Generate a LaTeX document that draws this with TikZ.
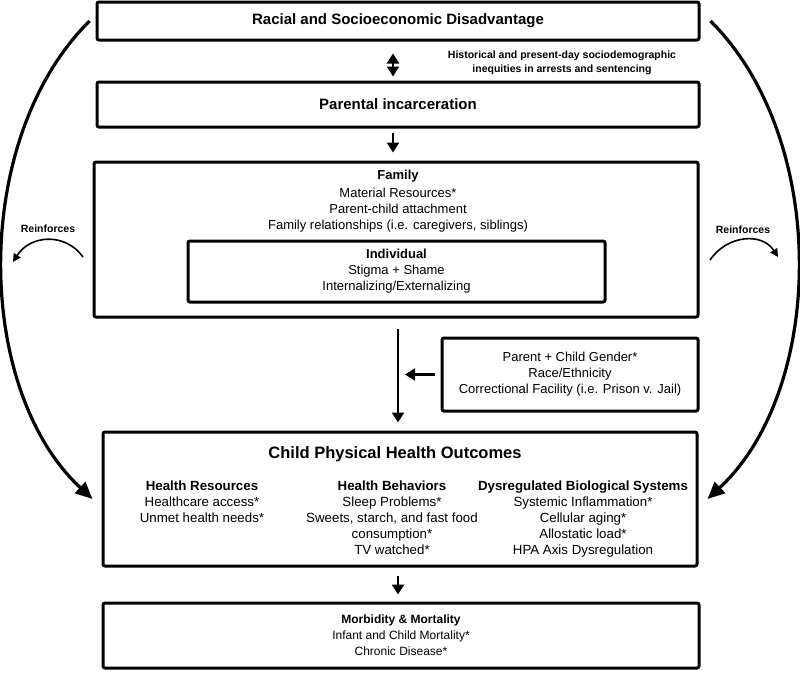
\documentclass[tikz,border=0pt]{standalone}
\usepackage{fontspec}
\setmainfont{Liberation Sans}
\usetikzlibrary{arrows.meta}

\newcommand{\titlefont}{\fontsize{15}{18}\selectfont\bfseries}
\newcommand{\bodyfont}{\fontsize{13}{16}\selectfont}
\newcommand{\notefont}{\fontsize{10.5}{13.5}\selectfont\bfseries}
\newcommand{\headfont}{\fontsize{16.5}{20}\selectfont\bfseries}
\newcommand{\colfont}{\fontsize{13.3}{16}\selectfont}
\newcommand{\smallfont}{\fontsize{12}{16}\selectfont}

\tikzstyle{box}=[draw, line width=3pt, rounded corners=2pt, inner sep=0, align=center]
\tikzstyle{note}=[inner sep=0, align=center, font=\notefont]
\tikzstyle{column}=[anchor=north, inner sep=0, align=center, font=\colfont]
\tikzstyle{arr}=[line width=2.2pt, -{Triangle[length=10pt,width=12pt]}]
\tikzstyle{bigarr}=[line width=3.2pt, -{Triangle[length=17pt,width=15pt]}]
\tikzstyle{reinarr}=[line width=1.6pt, -{Triangle[length=8pt,width=8pt]}]

\begin{document}
\begin{tikzpicture}[x=1pt, y=-1pt]
	\useasboundingbox (0,0) rectangle (800,675);

	% top of the chain
	\node[box, minimum width=602pt, minimum height=38pt, font=\titlefont] (racial) at (398,21) {Racial and Socioeconomic Disadvantage};
	\node[box, minimum width=602pt, minimum height=45pt, font=\titlefont] (parental) at (398,104.5) {Parental incarceration};
	\node[note] (inequity) at (562,63) {Historical and present-day sociodemographic\\inequities in arrests and sentencing};

	% family and individual
	\node[box, minimum width=604pt, minimum height=155pt] (family) at (396,239.5) {};
	\node[anchor=north, inner sep=0, align=center, font=\bodyfont] (famtext) at (398,169.5) {\textbf{Family}\\[2pt]Material Resources*\\Parent-child attachment\\Family relationships (i.e. caregivers, siblings)};
	\node[box, minimum width=417pt, minimum height=61pt, font=\bodyfont] (individual) at (396.5,271.5) {\textbf{Individual}\\Stigma + Shame\\Internalizing/Externalizing};

	\node[box, minimum width=256pt, minimum height=73pt, font=\bodyfont] (moderators) at (570,374.5) {Parent + Child Gender*\\Race/Ethnicity\\Correctional Facility (i.e. Prison v. Jail)};
	\coordinate (modtip) at (405,374.5);

	% outcomes
	\node[box, minimum width=594pt, minimum height=134pt] (outcomes) at (400,499) {};
	\node[anchor=north, inner sep=0, font=\headfont] (outtitle) at (395,446) {Child Physical Health Outcomes};
	\node[column] (resources) at (202,481) {\textbf{Health Resources}\\Healthcare access*\\Unmet health needs*};
	\node[column] (behaviors) at (392,481) {\textbf{Health Behaviors}\\Sleep Problems*\\Sweets, starch, and fast food\\consumption*\\TV watched*};
	\node[column] (biology) at (583,481) {\textbf{Dysregulated Biological Systems}\\Systemic Inflammation*\\Cellular aging*\\Allostatic load*\\HPA Axis Dysregulation};

	\node[box, minimum width=596pt, minimum height=65pt, font=\smallfont] (morbidity) at (401,635.5) {\textbf{Morbidity \& Mortality}\\Infant and Child Mortality*\\Chronic Disease*};

	% reinforcing loops
	\node[note] (reinfL) at (48,229) {Reinforces};
	\node[note] (reinfR) at (743,230) {Reinforces};
	\coordinate (rlA) at (83,257);
	\coordinate (rlB) at (13,262);
	\coordinate (rrA) at (710,260);
	\coordinate (rrB) at (778,257);
	\draw[reinarr] (rlA) .. controls (65,232) and (30,235) .. (rlB);
	\draw[reinarr] (rrA) .. controls (727,235) and (762,232) .. (rrB);

	% connectors
	\draw[arr, {Triangle[length=10pt,width=12pt]}-{Triangle[length=10pt,width=12pt]}] ([xshift=-5pt,yshift=-12pt]racial.south) -- ([xshift=-5pt,yshift=4pt]parental.north);
	\draw[arr] ([xshift=-5pt,yshift=-4pt]parental.south) -- ([xshift=-3pt,yshift=8pt]family.north);
	\draw[arr] ([xshift=2pt,yshift=-10pt]family.south) -- ([xshift=-2pt,yshift=8pt]outcomes.north);
	\draw[arr, shorten <=6pt] (moderators.west) -- (modtip);
	\draw[arr] ([xshift=-2pt,yshift=-8pt]outcomes.south) -- ([xshift=-3pt,yshift=7pt]morbidity.north);

	\draw[bigarr] ([xshift=-6pt]racial.west) .. controls (-30,140) and (-25,390) .. ([xshift=-9pt]outcomes.west);
	\draw[bigarr] ([xshift=10pt]racial.east) .. controls (830,140) and (825,390) .. ([xshift=9pt]outcomes.east);
\end{tikzpicture}
\end{document}
